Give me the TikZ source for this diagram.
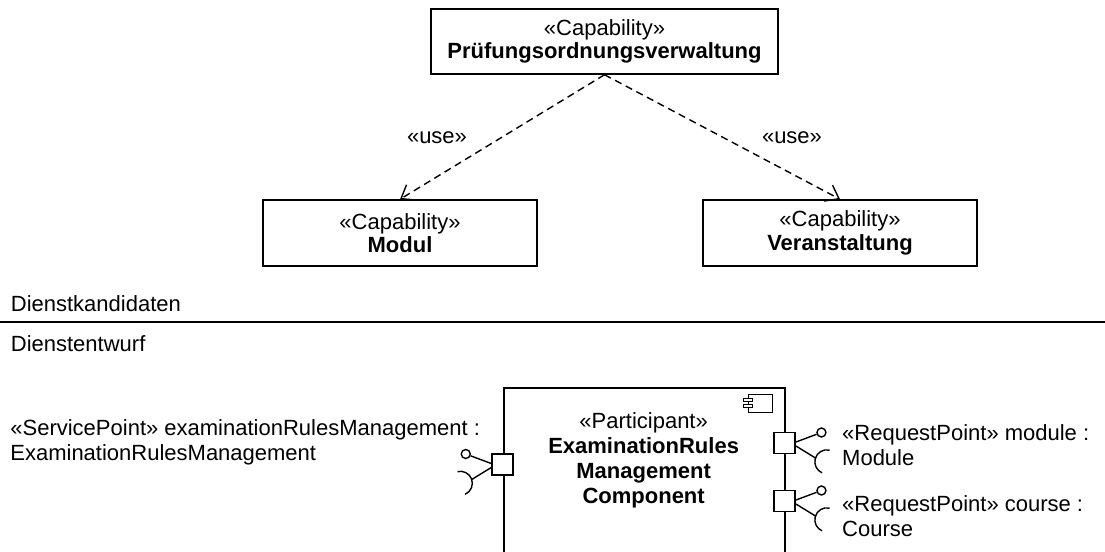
\documentclass[tikz,border=0pt]{standalone}
\usepackage{fontspec}
\setmainfont{Liberation Sans}
\usetikzlibrary{arrows.meta,calc}
\begin{document}
\begin{tikzpicture}[x=0.5pt,y=0.5pt,
  every node/.style={font=\fontsize{11}{12.5}\selectfont, inner sep=0pt},
  capbox/.style={draw, line width=0.75pt, align=center, minimum width=#1, minimum height=33pt, font=\fontsize{11}{11.8}\selectfont},
  usedep/.style={line width=0.7pt, dash pattern=on 3.6pt off 2.4pt, -{Straight Barb[length=6pt,width=9pt]}},
  portbox/.style={draw, fill=white, line width=0.75pt, minimum size=10.5pt},
  lolli/.style={draw, circle, line width=0.7pt, minimum size=4.5pt},
  wire/.style={line width=0.7pt},
  thinline/.style={line width=0.5pt},
]
\useasboundingbox (0,0) rectangle (1105,-552);
\fill[white] (0,0) rectangle (1105,-552);

% capabilities
\node[capbox=173.5pt, minimum height=32.5pt] (pov) at (604.5,-41.5) {«Capability»\\\textbf{Prüfungsordnungsverwaltung}};
\node[capbox=137pt] (modul) at (400,-233) {«Capability»\\\textbf{Modul}};
\node[capbox=137pt] (veran) at (840,-233) {«Capability»\\\textbf{Veranstaltung}};
\draw[usedep] (pov.south) -- (modul.north);
\draw[usedep] (pov.south) -- (veran.north);
\node (use1) at (437,-138) {«use»};
\node (use2) at (792,-138) {«use»};

% partitions
\node[anchor=base west] (kand) at (10.5,-311.5) {Dienstkandidaten};
\coordinate (sepL) at (0,-321.7);
\coordinate (sepR) at (1105,-321.7);
\draw[line width=1pt] (sepL) -- (sepR);
\node[anchor=base west] (entw) at (10.5,-351) {Dienstentwurf};

% component
\node[draw, line width=0.75pt, anchor=north west, minimum width=140.35pt, minimum height=100pt] (comp) at (503.3,-387.3) {};
\draw[thinline] (748,-394) rectangle (772,-412);
\draw[thinline, fill=white] (743.5,-398.5) rectangle (752,-401.5);
\draw[thinline, fill=white] (743.5,-404.5) rectangle (752,-407.5);
\node[align=center] (ptext) at (643.65,-460.8) {«Participant»\\\textbf{ExaminationRules}\\\textbf{Management}\\\textbf{Component}};

% ports
\node[portbox] (pL) at (502.5,-464.5) {};
\node[portbox] (pR1) at (784.7,-443) {};
\node[portbox] (pR2) at (784.7,-501) {};

% left port: provided + required
\node[lolli] (cL) at ($(pL.west)+(-25.5,10.5)$) {};
\draw[wire] ($(pL.west)+(0,1)$) -- (cL);
\draw[wire] ($(pL.west)+(0,-3)$) -- ($(pL.west)+(-19.5,-15)$);
\draw[wire] ($(pL.west)+(-30.9,-18.8)$) ++(-66.4:6pt) arc[start angle=-66.4,end angle=103.6,radius=6pt];

% right port 1
\node[lolli] (cR1) at ($(pR1.east)+(25.5,10.5)$) {};
\draw[wire] ($(pR1.east)+(0,1)$) -- (cR1);
\draw[wire] ($(pR1.east)+(0,-3)$) -- ($(pR1.east)+(19.5,-15)$);
\draw[wire] ($(pR1.east)+(30.9,-18.8)$) ++(76.4:6pt) arc[start angle=76.4,end angle=246.4,radius=6pt];

% right port 2
\node[lolli] (cR2) at ($(pR2.east)+(25.5,10.5)$) {};
\draw[wire] ($(pR2.east)+(0,1)$) -- (cR2);
\draw[wire] ($(pR2.east)+(0,-3)$) -- ($(pR2.east)+(19.5,-15)$);
\draw[wire] ($(pR2.east)+(30.9,-18.8)$) ++(76.4:6pt) arc[start angle=76.4,end angle=246.4,radius=6pt];

% port labels
\node[anchor=north west, align=left] (sp) at (10,-419.5) {«ServicePoint» examinationRulesManagement :\\ExaminationRulesManagement};
\node[anchor=north west, align=left] (rp1) at (841.8,-423.8) {«RequestPoint» module :\\Module};
\node[anchor=north west, align=left] (rp2) at (841.8,-495.3) {«RequestPoint» course :\\Course};
\end{tikzpicture}
\end{document}
